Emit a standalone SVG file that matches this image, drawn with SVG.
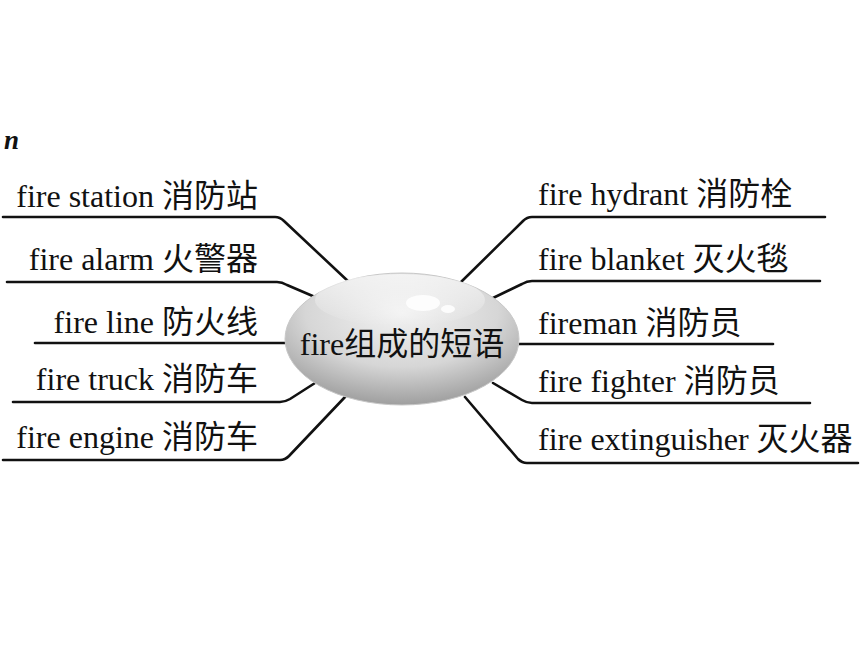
<svg xmlns="http://www.w3.org/2000/svg" width="860" height="645" viewBox="0 0 860 645">
<style>
.t{font-family:"Liberation Serif","Noto Sans CJK SC",serif;font-size:32px;fill:#111}
.l{text-anchor:end}
.c{fill:none;stroke:#111;stroke-width:2.6;stroke-linejoin:round;stroke-linecap:round}
</style>
<defs>
<radialGradient id="g" cx="0.5" cy="0.3" r="0.75">
<stop offset="0" stop-color="#f2f2f2"/>
<stop offset="0.55" stop-color="#d6d6d6"/>
<stop offset="1" stop-color="#959595"/>
</radialGradient>
<linearGradient id="h" x1="0" y1="0" x2="0" y2="1">
<stop offset="0" stop-color="#fff" stop-opacity="0.9"/>
<stop offset="1" stop-color="#fff" stop-opacity="0"/>
</linearGradient>
</defs>
<rect width="860" height="645" fill="#fff"/>
<text x="4" y="149" style="font-family:'Liberation Serif',serif;font-size:27px;font-weight:bold;font-style:italic;fill:#111">n</text>
<g id="connectors">
<path class="c" d="M3,217 L275,217 Q280,217 284,221 L350,283"/>
<path class="c" d="M7,282 L277,282 Q282,282 287,285 L315,297"/>
<path class="c" d="M35,343 L290,343"/>
<path class="c" d="M13,402 L280,402 Q285,402 290,399 L315,383"/>
<path class="c" d="M3,460 L280,460 Q285,460 289,456 L345,397"/>
<path class="c" d="M825,217 L532,217 Q527,217 523,221 L460,283"/>
<path class="c" d="M820,281 L532,281 Q527,281 522,284 L493,298"/>
<path class="c" d="M773,344 L515,344"/>
<path class="c" d="M810,403 L532,403 Q527,403 522,400 L493,383"/>
<path class="c" d="M858,463 L527,463 Q522,463 518,459 L465,397"/>
</g>
<g id="center">
<ellipse cx="402" cy="339" rx="117" ry="66" fill="url(#g)" stroke="#c8c8c8" stroke-width="1"/>
<ellipse cx="400" cy="300" rx="85" ry="26" fill="url(#h)" opacity="0.7"/>
<ellipse cx="423" cy="303" rx="17" ry="8" fill="#fff" opacity="0.85"/>
<ellipse cx="448" cy="309" rx="7" ry="4" fill="#fff" opacity="0.85"/>
<text class="t" x="402" y="355" text-anchor="middle">fire组成的短语</text>
</g>
<g id="n1"><text class="t l" x="258" y="207">fire station 消防站</text></g>
<g id="n2"><text class="t l" x="258" y="270">fire alarm 火警器</text></g>
<g id="n3"><text class="t l" x="258" y="333">fire line 防火线</text></g>
<g id="n4"><text class="t l" x="258" y="390">fire truck 消防车</text></g>
<g id="n5"><text class="t l" x="258" y="448">fire engine 消防车</text></g>
<g id="n6"><text class="t" x="538" y="205">fire hydrant 消防栓</text></g>
<g id="n7"><text class="t" x="538" y="270">fire blanket 灭火毯</text></g>
<g id="n8"><text class="t" x="538" y="334">fireman 消防员</text></g>
<g id="n9"><text class="t" x="538" y="392">fire fighter 消防员</text></g>
<g id="n10"><text class="t" x="538" y="450">fire extinguisher 灭火器</text></g>
</svg>
